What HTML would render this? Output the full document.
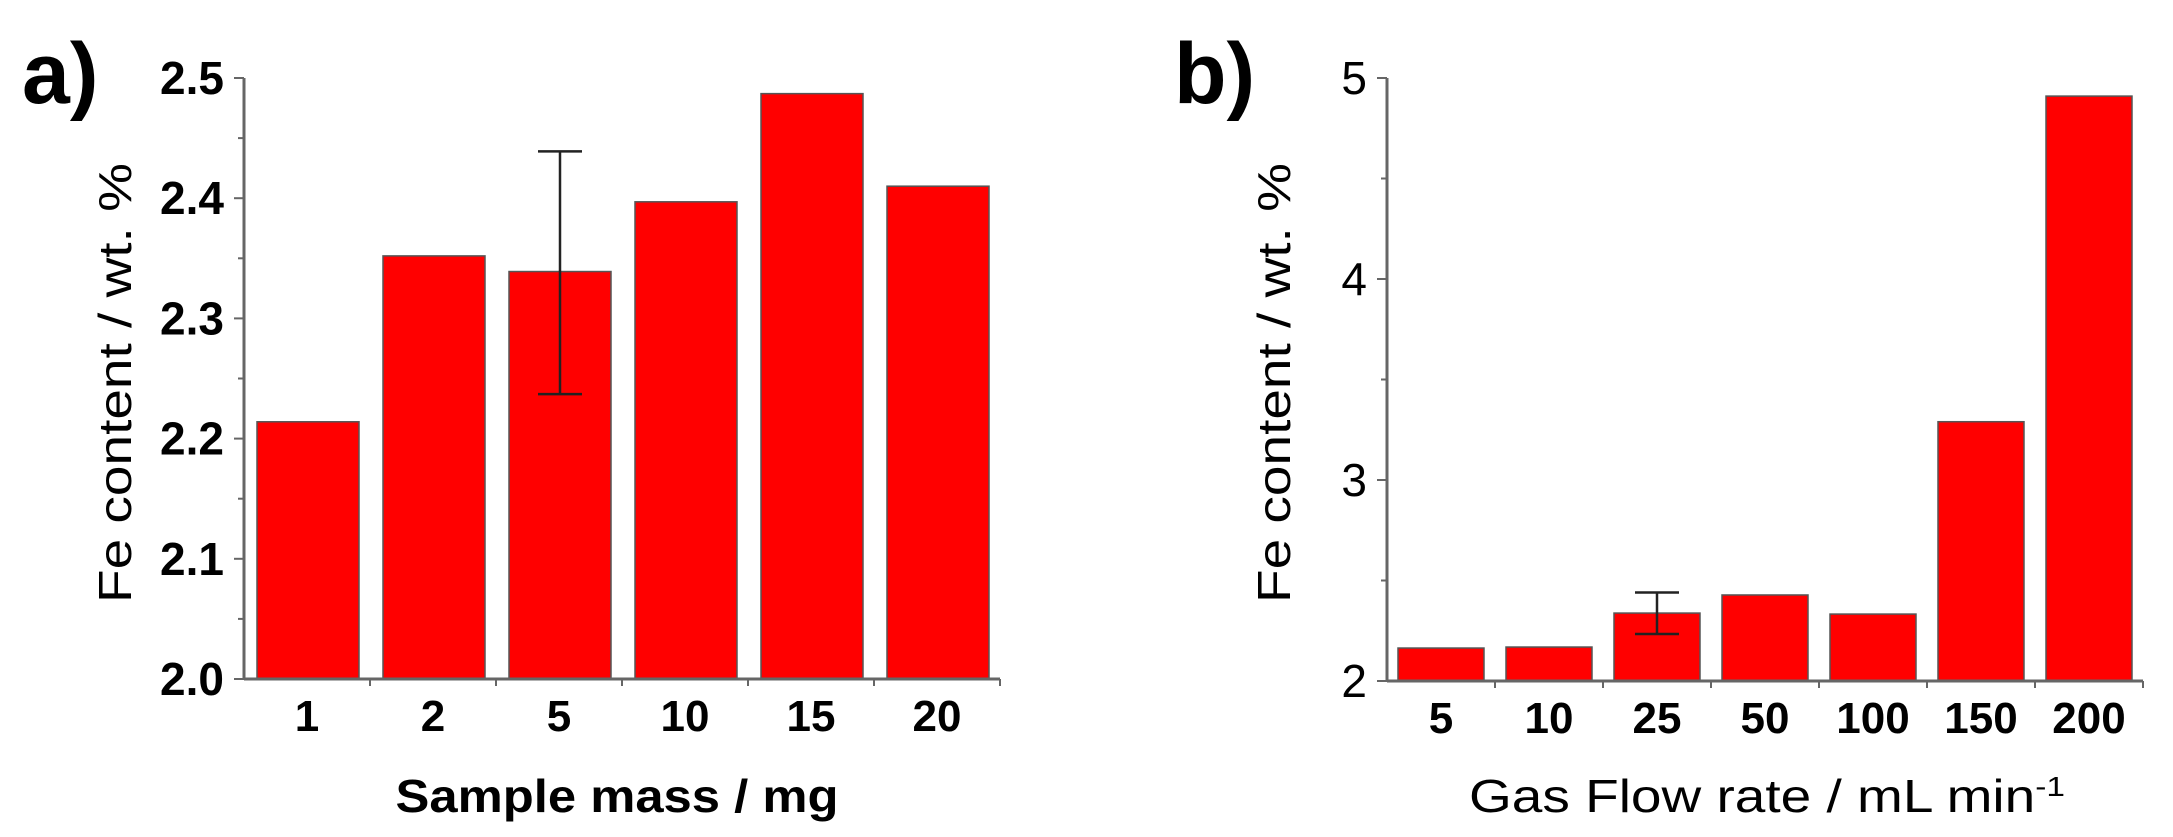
<!DOCTYPE html>
<html><head><meta charset="utf-8"><style>
html,body{margin:0;padding:0;background:#fff;}
svg{display:block;}
text{font-family:"Liberation Sans",sans-serif;fill:#000;}
</style></head>
<body>
<svg id="chart" width="2173" height="837" viewBox="0 0 2173 837" xmlns="http://www.w3.org/2000/svg">
<text x="22" y="103" font-size="86" font-weight="bold">a)</text>
<text x="1174" y="103" font-size="86" font-weight="bold">b)</text>
<text transform="translate(131,383) rotate(-90)" text-anchor="middle" font-size="46" textLength="440" lengthAdjust="spacingAndGlyphs">Fe content / wt. %</text>
<text transform="translate(1290,383) rotate(-90)" text-anchor="middle" font-size="46" textLength="440" lengthAdjust="spacingAndGlyphs">Fe content / wt. %</text>
<text x="617" y="812" text-anchor="middle" font-size="46" font-weight="bold" textLength="443" lengthAdjust="spacingAndGlyphs">Sample mass / mg</text>
<text x="1767" y="812" text-anchor="middle" font-size="46" textLength="596" lengthAdjust="spacingAndGlyphs">Gas Flow rate / mL min<tspan dy="-16" font-size="28">-1</tspan></text>
<g id="ga"></g>
<g id="gb"></g>
</svg>
<script>
const catsA = ["1","2","5","10","15","20"];
const valsA = [2.214, 2.352, 2.339, 2.397, 2.487, 2.41];
const errLoA = [null, null, 2.237, null, null, null];
const errHiA = [null, null, 2.439, null, null, null];
const ticksA = [2.0, 2.1, 2.2, 2.3, 2.4, 2.5];
const tickLabelsA = ["2.0","2.1","2.2","2.3","2.4","2.5"];

const catsB = ["5","10","25","50","100","150","200"];
const valsB = [2.164, 2.169, 2.338, 2.428, 2.333, 3.29, 4.91];
const errLoB = [null, null, 2.234, null, null, null, null];
const errHiB = [null, null, 2.44, null, null, null, null];
const ticksB = [2, 3, 4, 5];
const tickLabelsB = ["2","3","4","5"];
const minorB = [2.5, 3.5, 4.5];
const minorA = [2.05, 2.15, 2.25, 2.35, 2.45];

const NS = "http://www.w3.org/2000/svg";
function mk(tag, attrs, parent){const e=document.createElementNS(NS,tag);for(const k in attrs)e.setAttribute(k,attrs[k]);parent.appendChild(e);return e;}

function panel(g, cfg){
  const y = v => cfg.y0 + (v - cfg.vmin) / (cfg.vmax - cfg.vmin) * (cfg.y1 - cfg.y0);
  const band = (cfg.x1 - cfg.x0) / cfg.cats.length;
  const x = i => cfg.x0 + i * band;
  // bars
  cfg.vals.forEach((v,i)=>{
    const r = mk("rect",{x:x(i)+cfg.off, y:y(v), width:cfg.bw, height:y(cfg.vmin)-y(v), fill:"#ff0000", stroke:"#555", "stroke-width":1.5}, g);
    
    
    if (cfg.lo[i] != null){
      const cx = x(i)+cfg.off+cfg.bw/2;
      const eg = mk("g",{stroke:"#222","stroke-width":2.5},g);
      
      
      mk("line",{x1:cx,x2:cx,y1:y(cfg.hi[i]),y2:y(cfg.lo[i])},eg);
      mk("line",{x1:cx-22,x2:cx+22,y1:y(cfg.hi[i]),y2:y(cfg.hi[i])},eg);
      mk("line",{x1:cx-22,x2:cx+22,y1:y(cfg.lo[i]),y2:y(cfg.lo[i])},eg);
    }
    const t = mk("text",{x:x(i)+band/2, y:cfg.y0+52, "text-anchor":"middle", "font-size":44, "font-weight":"bold"}, g);
    t.textContent = cfg.cats[i];
    
    
  });
  // axes
  const ya = mk("line",{x1:cfg.x0,x2:cfg.x0,y1:y(cfg.vmax),y2:y(cfg.vmin),stroke:"#666","stroke-width":3},g);
  
  
  const xa = mk("line",{x1:cfg.x0,x2:cfg.x1,y1:y(cfg.vmin),y2:y(cfg.vmin),stroke:"#666","stroke-width":3},g);
  
  
  cfg.ticks.forEach((v,i)=>{
    mk("line",{x1:cfg.x0-10,x2:cfg.x0,y1:y(v),y2:y(v),stroke:"#666","stroke-width":2},g);
    const t = mk("text",{x:cfg.x0-20, y:y(v)+16, "text-anchor":"end", "font-size":cfg.tfs, "font-weight":cfg.tfw}, g);
    t.textContent = cfg.tlabels[i];
    
    
  });
  cfg.minor.forEach(v=>{mk("line",{x1:cfg.x0-6,x2:cfg.x0,y1:y(v),y2:y(v),stroke:"#666","stroke-width":2},g);});
  for(let i=1;i<=cfg.cats.length;i++){mk("line",{x1:x(i),x2:x(i),y1:y(cfg.vmin),y2:y(cfg.vmin)+7,stroke:"#666","stroke-width":2},g);}
}
panel(document.getElementById("ga"),{prefix:"a",cats:catsA,vals:valsA,lo:errLoA,hi:errHiA,ticks:ticksA,tlabels:tickLabelsA,minor:minorA,
  vmin:2.0,vmax:2.5,y0:679,y1:78,x0:244,x1:1000,off:13,bw:102,tfs:46,tfw:"bold"});
panel(document.getElementById("gb"),{prefix:"b",cats:catsB,vals:valsB,lo:errLoB,hi:errHiB,ticks:ticksB,tlabels:tickLabelsB,minor:minorB,
  vmin:2,vmax:5,y0:681,y1:78,x0:1387,x1:2143,off:11,bw:86,tfs:46,tfw:"normal"});
</script>
</body></html>
